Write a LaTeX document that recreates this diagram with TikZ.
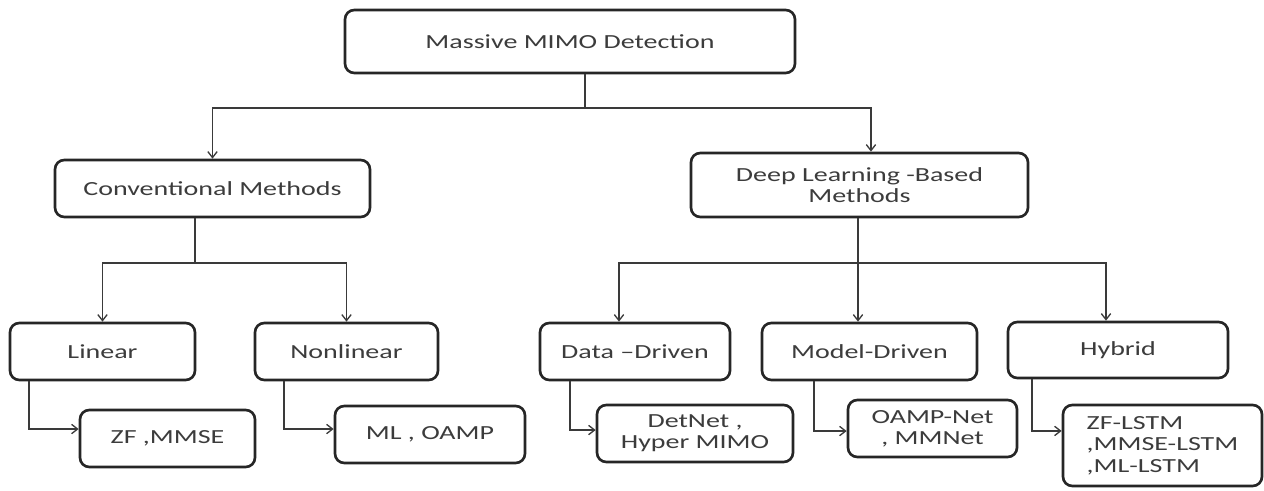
\documentclass[tikz,border=0pt]{standalone}
\usepackage{fontspec}
\setmainfont{Carlito}[FakeStretch=1.4]
\usetikzlibrary{arrows.meta}
\definecolor{ink}{HTML}{262626}
\definecolor{wire}{HTML}{3A3A3A}
\begin{document}
\begin{tikzpicture}[x=0.75pt,y=-0.75pt,
  box/.style={draw=ink, line width=2pt, rounded corners=7pt, fill=white,
    text=ink!90, font=\fontsize{15}{16}\selectfont, align=center, inner sep=0pt},
  conn/.style={draw=wire, line width=1pt},
  arr/.style={conn, -{Straight Barb[length=4.5pt,width=7pt]}}]
\useasboundingbox (0,0) rectangle (1264,491);

% boxes
\node[box, minimum width=337.5pt, minimum height=47.25pt] (root)   at (570,41.5)   {Massive MIMO Detection};
\node[box, minimum width=236.25pt, minimum height=42.75pt] (conv)  at (212.5,188.5) {Conventional Methods};
\node[box, minimum width=252.75pt, minimum height=48pt]    (deep)  at (859.5,185)  {Deep Learning -Based\\Methods};
\node[box, minimum width=138.75pt, minimum height=42.75pt] (lin)    at (102.5,351.5) {Linear};
\node[box, minimum width=137.25pt, minimum height=42.75pt] (nonlin) at (346.5,351.5) {Nonlinear};
\node[box, minimum width=142.5pt,  minimum height=42.75pt] (data)   at (635,351.5)   {Data --Driven};
\node[box, minimum width=161.25pt, minimum height=42.75pt] (model)  at (869.5,351.5) {Model-Driven};
\node[box, minimum width=165pt,    minimum height=42pt]    (hybrid) at (1118,350)    {Hybrid};
\node[box, minimum width=131.25pt, minimum height=42.75pt] (zf)     at (167.5,438.5) {ZF ,MMSE};
\node[box, minimum width=142.5pt,  minimum height=42.75pt] (ml)     at (430,434.5)   {ML , OAMP};
\node[box, minimum width=147pt,    minimum height=42.75pt] (det)    at (695,433.5)   {DetNet ,\\Hyper MIMO};
\node[box, minimum width=126.75pt, minimum height=42.75pt] (oamp)   at (932.5,428.5) {OAMP-Net\\, MMNet};
\node[box, minimum width=149.25pt, minimum height=60.75pt, align=left] (lstm) at (1162.5,445.5) {ZF-LSTM\\,MMSE-LSTM\\,ML-LSTM};

% junction points of the tree
\coordinate (j0) at (585,108);
\coordinate (j1) at (195,263);
\coordinate (j2) at (858,263);

% first level
\draw[conn] (j0 |- root.south) -- (j0);
\draw[arr] (j0) -| (conv.north);
\draw[arr] (j0) -| ([xshift=8.6pt]deep.north);

% conventional branch
\draw[conn] (j1 |- conv.south) -- (j1);
\draw[arr] (j1) -| (lin.north);
\draw[arr] (j1) -| (nonlin.north);

% deep learning branch
\draw[arr] (j2 |- deep.south) -- (j2 |- model.north);
\draw[arr] (j2) -| ([xshift=-12pt]data.north);
\draw[arr] (j2) -| ([xshift=-9pt]hybrid.north);

% leaves
\draw[arr] ([xshift=-55.1pt]lin.south)    |- ([yshift=7.1pt]zf.west);
\draw[arr] ([xshift=-46.9pt]nonlin.south) |- ([yshift=4.1pt]ml.west);
\draw[arr] ([xshift=-48.75pt]data.south)  |- ([yshift=2.6pt]det.west);
\draw[arr] ([xshift=-41.6pt]model.south)  |- ([yshift=-1.9pt]oamp.west);
\draw[arr] ([xshift=-64.5pt]hybrid.south) |- ([yshift=10.9pt]lstm.west);
\end{tikzpicture}
\end{document}
